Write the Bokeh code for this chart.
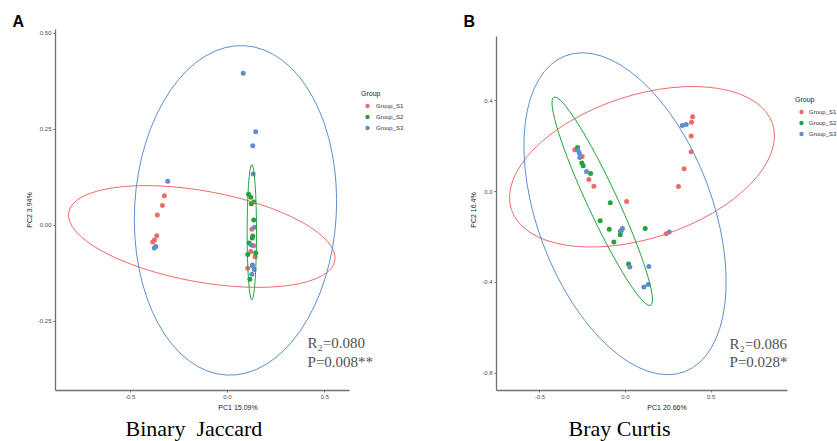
from bokeh.plotting import figure
from bokeh.layouts import row
from bokeh.models import FixedTicker, Legend, LegendItem, Label, Range1d, Title, PrintfTickFormatter
from bokeh.embed import file_html
from bokeh.resources import INLINE

groups = ["Group_S1", "Group_S2", "Group_S3"]
colors = ["#EE6B67", "#22A43B", "#5E8ECF"]

# ---------------- Panel A : Binary Jaccard ----------------
a_s1_x = [-0.324, -0.334, -0.360, -0.363, -0.375, -0.384, 0.125, 0.135, 0.120, 0.142, 0.104]
a_s1_y = [0.077, 0.052, 0.027, -0.027, -0.038, -0.043, -0.010, -0.053, -0.068, -0.082, -0.112]
a_s2_x = [0.108, 0.120, 0.135, 0.122, 0.135, 0.130, 0.127, 0.111, 0.104, 0.145, 0.128, 0.115]
a_s2_y = [0.081, 0.073, 0.061, 0.056, 0.014, -0.028, -0.033, -0.046, -0.076, -0.072, -0.103, -0.140]
a_s3_x = [-0.307, -0.368, -0.376, 0.081, 0.145, 0.130, 0.132, 0.139, 0.122, 0.128, 0.137, 0.125]
a_s3_y = [0.115, -0.055, -0.059, 0.396, 0.244, 0.207, 0.134, -0.005, -0.051, -0.105, -0.115, -0.127]
# 95% ellipses (S1, S2, S3)
a_ell_x = [-0.132, 0.125, 0.041]
a_ell_y = [-0.029, -0.018, 0.039]
a_ell_w = [1.389, 0.048, 1.036]
a_ell_h = [0.237, 0.352, 0.859]
a_ell_angle = [-0.180, 0.0, -0.055]
a_xticks = [-0.5, 0.0, 0.5]
a_yticks = [-0.25, 0.0, 0.25, 0.5]
a_stats = ["R\u2082=0.080", "P=0.008**"]

# ---------------- Panel B : Bray Curtis ----------------
b_s1_x = [-0.296, -0.253, -0.214, -0.185, 0.006, 0.237, 0.309, 0.342, 0.383, 0.383, 0.385, 0.391]
b_s1_y = [0.184, 0.154, 0.053, 0.023, -0.044, -0.186, 0.022, 0.100, 0.175, 0.245, 0.305, 0.330]
b_s2_x = [-0.280, -0.255, -0.247, -0.204, -0.089, -0.148, -0.095, -0.029, -0.031, -0.068, 0.115, 0.018]
b_s2_y = [0.194, 0.126, 0.113, 0.079, -0.050, -0.129, -0.166, -0.175, -0.191, -0.222, -0.163, -0.320]
b_s3_x = [-0.278, -0.270, -0.267, -0.228, -0.018, -0.025, 0.255, 0.025, 0.136, 0.107, 0.132, 0.331, 0.354]
b_s3_y = [0.182, 0.170, 0.150, 0.088, -0.163, -0.172, -0.178, -0.333, -0.330, -0.421, -0.410, 0.291, 0.295]
b_ell_x = [0.096, -0.136, -0.003]
b_ell_y = [0.109, -0.043, -0.098]
b_ell_w = [1.604, 0.175, 1.020]
b_ell_h = [0.630, 1.012, 1.488]
b_ell_angle = [0.317, 0.435, 0.36]
b_xticks = [-0.5, 0.0, 0.5]
b_yticks = [-0.8, -0.4, 0.0, 0.4]
b_stats = ["R\u2082=0.086", "P=0.028*"]

SANS = "Liberation Sans"
SERIF = "Liberation Serif"


def make_panel(width, left, xr, yr, xbounds, ybounds, xs, ys, ell, xticks, yticks,
               xfmt, yfmt, xlabel, ylabel, legend_loc, legend_standoff, letter, letter_off,
               caption, caption_off, stats, stats_xy):
    p = figure(width=width, height=441, output_backend="svg", toolbar_location=None,
               x_range=Range1d(*xr), y_range=Range1d(*yr),
               min_border_left=left, min_border_right=0, min_border_top=29,
               min_border_bottom=51)
    p.outline_line_color = None
    p.xgrid.visible = False
    p.ygrid.visible = False
    p.background_fill_color = "white"
    p.border_fill_color = "white"

    renderers = []
    for gx, gy, c in zip(xs, ys, colors):
        r = p.scatter(gx, gy, size=5, fill_color=c, line_color=None)
        renderers.append(r)
    ex, ey, ew, eh, ea = ell
    for i, c in enumerate(colors):
        p.ellipse(x=[ex[i]], y=[ey[i]], width=[ew[i]], height=[eh[i]], angle=[ea[i]],
                  fill_color=None, line_color=c, line_width=1)

    xa = p.xaxis[0]
    ya = p.yaxis[0]
    xa.bounds = xbounds
    ya.bounds = ybounds
    xa.ticker = FixedTicker(ticks=xticks)
    ya.ticker = FixedTicker(ticks=yticks)
    xa.formatter = PrintfTickFormatter(format=xfmt)
    ya.formatter = PrintfTickFormatter(format=yfmt)
    xa.axis_label = xlabel
    ya.axis_label = ylabel
    for ax in (xa, ya):
        ax.axis_line_color = "#707070"
        ax.axis_line_width = 1.3
        ax.major_tick_line_color = "#707070"
        ax.major_tick_out = 2
        ax.major_tick_in = 0
        ax.minor_tick_line_color = None
        ax.major_label_text_font = SANS
        ax.major_label_text_font_size = "6px"
        ax.major_label_text_color = "#4d4d4d"
        ax.major_label_standoff = 2
        ax.axis_label_text_font = SANS
        ax.axis_label_text_font_size = "7px"
        ax.axis_label_text_font_style = "normal"
        ax.axis_label_text_color = "#1a1a1a"
        ax.axis_label_standoff = 2

    legend = Legend(items=[LegendItem(label=g, renderers=[r]) for g, r in zip(groups, renderers)],
                    title="Group", location=legend_loc)
    legend.padding = 0
    legend.margin = 0
    legend.spacing = 0
    legend.glyph_height = 11
    legend.glyph_width = 12
    legend.label_height = 11
    legend.label_standoff = legend_standoff
    legend.title_standoff = 3
    legend.label_text_font = SANS
    legend.label_text_font_size = "6px"
    legend.label_text_color = "#333333"
    legend.title_text_font = SANS
    legend.title_text_font_size = "7px"
    legend.title_text_font_style = "normal"
    legend.title_text_color = "#1a1a1a"
    legend.background_fill_alpha = 0
    legend.border_line_alpha = 0
    p.add_layout(legend)

    p.add_layout(Title(text=letter, align="left", offset=letter_off, text_font=SANS,
                       text_font_size="16px", text_font_style="bold", text_color="black",
                       standoff=0), "above")
    p.add_layout(Title(text=caption, align="left", offset=caption_off, text_font=SERIF,
                       text_font_size="22px", text_font_style="normal", text_color="black",
                       standoff=0), "below")
    for s, (sx, sy) in zip(stats, stats_xy):
        p.add_layout(Label(x=sx, y=sy, text=s, text_font=SERIF, text_font_size="15px",
                           text_color="#505050", text_baseline="alphabetic", text_align="left"))
    return p


pA = make_panel(420, 55, (-0.883, 0.991), (-0.430, 0.510), (-0.883, 0.627), (-0.430, 0.510),
                [a_s1_x, a_s2_x, a_s3_x], [a_s1_y, a_s2_y, a_s3_y],
                (a_ell_x, a_ell_y, a_ell_w, a_ell_h, a_ell_angle), a_xticks, a_yticks,
                "%.1f", "%.2f", "PC1 15.09%", "PC2 3.94%", (306, 257), 3, "A", -43,
                "Binary\u00a0\u00a0Jaccard", 70, a_stats, [(0.411, -0.306), (0.411, -0.356)])

pB = make_panel(417, 76, (-0.753, 1.237), (-0.877, 0.714), (-0.753, 0.943), (-0.877, 0.683),
                [b_s1_x, b_s2_x, b_s3_x], [b_s1_y, b_s2_y, b_s3_y],
                (b_ell_x, b_ell_y, b_ell_w, b_ell_h, b_ell_angle), b_xticks, b_yticks,
                "%.1f", "%.1f", "PC1 20.66%", "PC2 16.4%", (299, 251), 2, "B", -33,
                "Bray Curtis", 72, b_stats, [(0.607, -0.671), (0.607, -0.753)])

layout = row(pA, pB)
open("out.html", "w").write(file_html(layout, INLINE))
